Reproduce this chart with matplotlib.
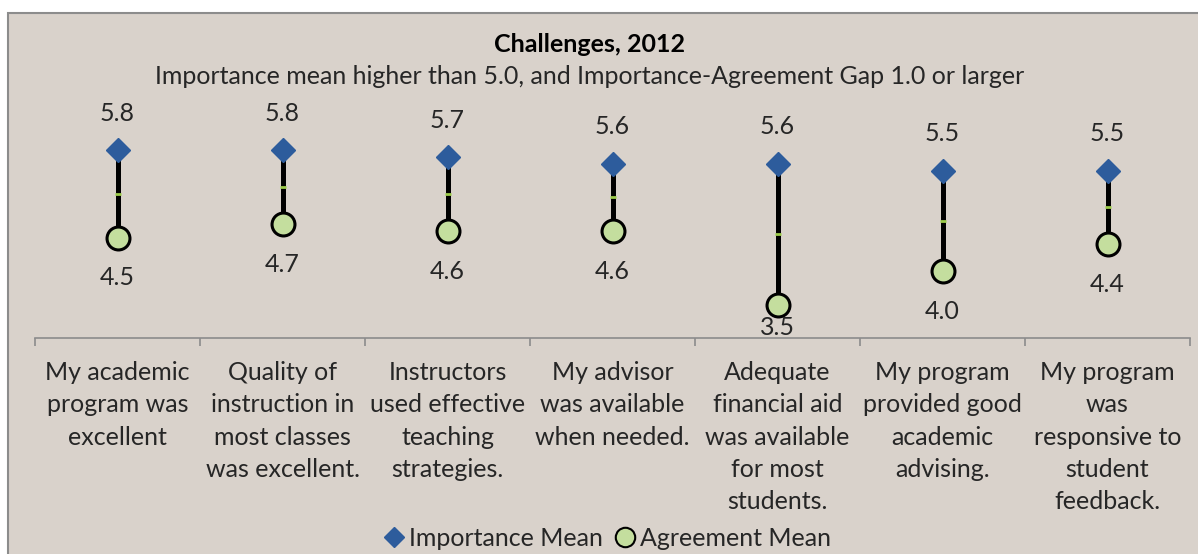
import matplotlib
matplotlib.use("Agg")
import matplotlib.pyplot as plt
from matplotlib.patches import Rectangle
from matplotlib.lines import Line2D
import numpy as np

categories = [
    "My academic\nprogram was\nexcellent",
    "Quality of\ninstruction in\nmost classes\nwas excellent.",
    "Instructors\nused effective\nteaching\nstrategies.",
    "My advisor\nwas available\nwhen needed.",
    "Adequate\nfinancial aid\nwas available\nfor most\nstudents.",
    "My program\nprovided good\nacademic\nadvising.",
    "My program\nwas\nresponsive to\nstudent\nfeedback.",
]
importance = [5.8, 5.8, 5.7, 5.6, 5.6, 5.5, 5.5]
agreement = [4.5, 4.7, 4.6, 4.6, 3.5, 4.0, 4.4]

title = "Challenges, 2012"
subtitle = "Importance mean higher than 5.0, and Importance-Agreement Gap 1.0 or larger"

FONT = "Lato"
BG = "#d9d2cb"
BLUE = "#2d5c9c"
GREEN = "#c4de9e"
TXT = "#262626"
FS = 18

W, H = 1198, 554
fig = plt.figure(figsize=(W / 100, H / 100), dpi=100)
fig.patch.set_facecolor("white")
fig.patches.append(Rectangle((8 / W, -0.05), 1.1, 1 - 13 / H + 0.05, transform=fig.transFigure,
                             facecolor=BG, edgecolor="#8c8c8c", linewidth=1.5, zorder=-10))

ax = fig.add_axes([35 / W, 1 - 338 / H, 1155 / W, (338 - 103.5) / H])
ax.set_facecolor("none")
x = np.arange(1, len(categories) + 1)
ax.set_xlim(0.5, len(categories) + 0.5)
ax.set_ylim(3.0, 6.5)

for xi, hi, lo in zip(x, importance, agreement):
    ax.plot([xi, xi], [lo, hi], color="black", lw=3.6, zorder=2, solid_capstyle="butt")
    ax.plot([xi], [(hi + lo) / 2], marker="_", color="#9ccc4a", markersize=5, mew=2, zorder=3)

ax.plot(x, importance, linestyle="none", marker="D", markersize=12.5, color=BLUE,
        markeredgecolor=BLUE, zorder=4)
ax.plot(x, agreement, linestyle="none", marker="o", markersize=16.5, markerfacecolor=GREEN,
        markeredgecolor="black", markeredgewidth=2.2, zorder=4)

for xi, v in zip(x, importance):
    ax.text(xi, v + 0.55, f"{v:.1f}", ha="center", va="center", fontsize=FS, family=FONT,
            color=TXT, clip_on=False)
for xi, v in zip(x, agreement):
    ax.text(xi, max(v - 0.6, 3.15), f"{v:.1f}", ha="center", va="center", fontsize=FS,
            family=FONT, color=TXT, clip_on=False, zorder=5)

for s in ["top", "right", "left"]:
    ax.spines[s].set_visible(False)
ax.spines["bottom"].set_color("#8c8c8c")
ax.spines["bottom"].set_linewidth(1.2)
ax.set_yticks([])
ax.set_xticks(np.arange(0.5, len(categories) + 1, 1.0))
ax.set_xticklabels([])
ax.tick_params(axis="x", direction="out", length=6, color="#8c8c8c", width=1.2)
for xi, c in zip(x, categories):
    ax.text(xi, 3.0 - 23 / 67, c, ha="center", va="top", fontsize=FS,
            family=FONT, color=TXT, linespacing=1.49, clip_on=False)

fig.text(590 / W, 1 - 45 / H, title, ha="center", va="center", fontsize=FS, fontweight="bold",
         family=FONT, color="black")
fig.text(590 / W, 1 - 77 / H, subtitle, ha="center", va="center", fontsize=FS, family=FONT,
         color=TXT)

handles = [
    Line2D([], [], linestyle="none", marker="D", markersize=10, color=BLUE),
    Line2D([], [], linestyle="none", marker="o", markersize=14, markerfacecolor=GREEN,
           markeredgecolor="black", markeredgewidth=1.5),
]
leg = fig.legend(handles, ["Importance Mean", "Agreement Mean"], loc="center",
                 bbox_to_anchor=(605 / W, 1 - 538 / H), ncol=2, frameon=False,
                 prop={"family": FONT, "size": FS}, handletextpad=0.0, columnspacing=0.3,
                 handlelength=1.2, labelcolor=TXT, borderpad=0.0)

fig.savefig("out.png", dpi=100, facecolor=fig.get_facecolor())
